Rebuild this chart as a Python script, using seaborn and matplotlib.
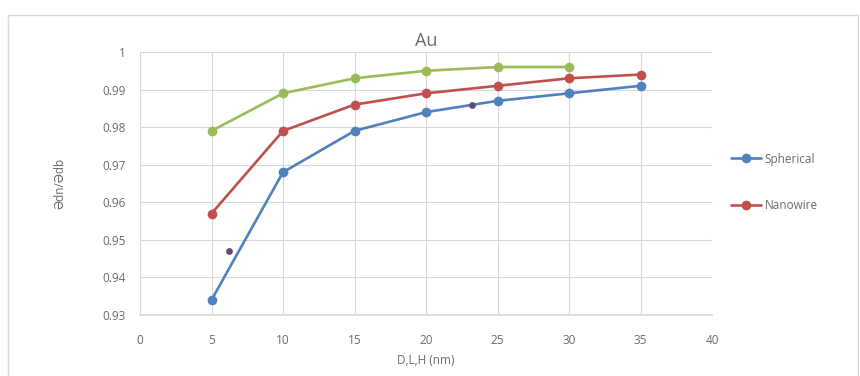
import matplotlib
matplotlib.use("Agg")
import matplotlib.pyplot as plt
import matplotlib.patches as mpatches
import seaborn as sns
import pandas as pd

# Size values (nm)
sizes = [5, 10, 15, 20, 25, 30, 35]
spherical = [0.934, 0.968, 0.979, 0.984, 0.987, 0.989, 0.991]
nanowire = [0.957, 0.979, 0.986, 0.989, 0.991, 0.993, 0.994]
film_sizes = [5, 10, 15, 20, 25, 30]
film = [0.979, 0.989, 0.993, 0.995, 0.996, 0.996]
extra_x = [6.2, 23.2]
extra_y = [0.947, 0.986]

x_ticks = [0, 5, 10, 15, 20, 25, 30, 35, 40]
y_ticks = [0.93, 0.94, 0.95, 0.96, 0.97, 0.98, 0.99, 1.0]
y_tick_labels = ["0.93", "0.94", "0.95", "0.96", "0.97", "0.98", "0.99", "1"]

sns.set_theme(style="white")
plt.rcParams["font.family"] = ["Open Sans", "DejaVu Sans"]

df = pd.concat([
    pd.DataFrame({"size": sizes, "value": spherical, "series": "Spherical"}),
    pd.DataFrame({"size": sizes, "value": nanowire, "series": "Nanowire"}),
    pd.DataFrame({"size": film_sizes, "value": film, "series": "Film"}),
])

palette = {"Spherical": "#4F81BD", "Nanowire": "#C0504D", "Film": "#9BBB59"}

fig = plt.figure(figsize=(8.6, 3.76), dpi=100)
ax = fig.add_axes([140 / 860, 1 - 315 / 376, 572 / 860, 263 / 376])

# outer chart frame
frame = mpatches.Rectangle((8 / 860, -0.05), 850 / 860, 1.05 - 15 / 376,
                           transform=fig.transFigure, fill=False,
                           edgecolor="#d9d9d9", linewidth=1.0, zorder=0)
fig.patches.append(frame)

sns.lineplot(data=df, x="size", y="value", hue="series", palette=palette,
             marker="o", markersize=7, markeredgewidth=0, linewidth=1.9,
             ax=ax, legend=False, sort=False)
ax.scatter(extra_x, extra_y, s=24, color="#604A7B", zorder=5, linewidths=0)

ax.set_xlim(0, 40)
ax.set_ylim(0.93, 1.0)
ax.set_xticks(x_ticks)
ax.set_yticks(y_ticks)
ax.set_yticklabels(y_tick_labels)
ax.grid(True, color="#d9d9d9", linewidth=0.8)
for s in ["top", "right", "left"]:
    ax.spines[s].set_visible(False)
ax.spines["bottom"].set_color("#d9d9d9")
ax.tick_params(axis="both", colors="#6b6b6b", labelsize=8.5, length=0, pad=10)
ax.tick_params(axis="x", pad=14)

ax.set_xlabel("D,L,H (nm)", color="#6b6b6b", fontsize=8.5, labelpad=5)
ax.set_ylabel("Ədn/Ədb", color="#6b6b6b", fontsize=8.5, labelpad=26)
ax.set_title("Au", color="#6b6b6b", fontsize=13, pad=4)

# legend entries to the right of the plot
handles = [
    plt.Line2D([], [], color=palette["Spherical"], marker="o", markersize=7,
               markeredgewidth=0, linewidth=1.9, label="Spherical"),
    plt.Line2D([], [], color=palette["Nanowire"], marker="o", markersize=7,
               markeredgewidth=0, linewidth=1.9, label="Nanowire"),
]
fig.legend(handles=handles, loc="upper left", bbox_to_anchor=(720 / 860, 1 - 142 / 376),
           frameon=False, fontsize=8.5, labelcolor="#6b6b6b", handlelength=2.6,
           handletextpad=0.3, labelspacing=2.85)

fig.savefig("out.png", dpi=100, facecolor="white")
